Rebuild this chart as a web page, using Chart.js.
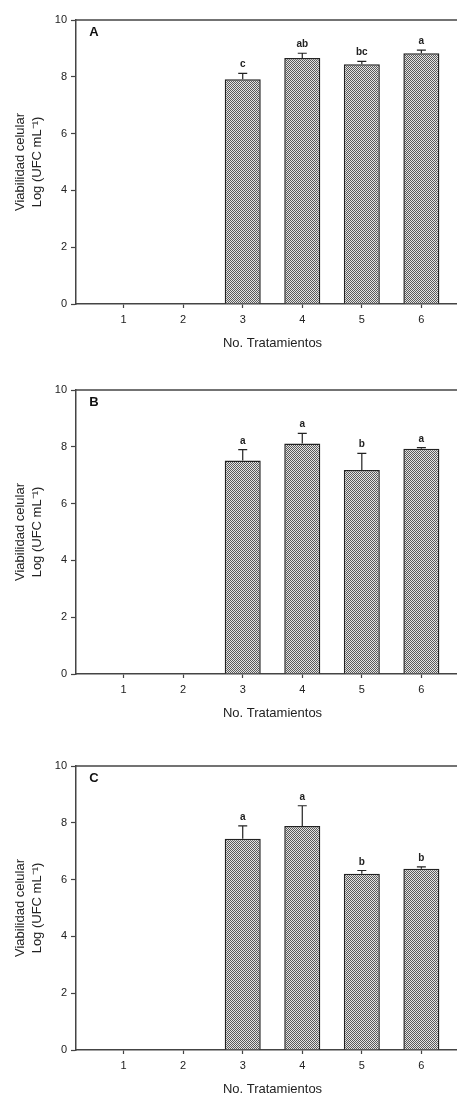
<!DOCTYPE html>
<html>
<head>
<meta charset="utf-8">
<script src="https://cdn.jsdelivr.net/npm/chart.js@4.4.0/dist/chart.umd.min.js"></script>
<style>
    html, body { margin: 0; padding: 0; background: #fff; }
    body { width: 457px; height: 1095px; overflow: hidden; position: relative; }
    canvas { position: absolute; left: 0; }
</style>
</head>
<body>
<canvas id="chartA" width="470" height="360" style="top:0px"></canvas>
<canvas id="chartB" width="470" height="360" style="top:370px"></canvas>
<canvas id="chartC" width="470" height="360" style="top:746px"></canvas>
<script>
// Data (treatments 1 and 2 have no bar)
const treatments = [1, 2, 3, 4, 5, 6];
const yTicks = [0, 2, 4, 6, 8, 10];

const meansA = [null, null, 7.91, 8.66, 8.44, 8.83];
const errA = [null, null, 0.21, 0.17, 0.10, 0.11];
const lettersA = ['', '', 'c', 'ab', 'bc', 'a'];

const meansB = [null, null, 7.52, 8.12, 7.18, 7.93];
const errB = [null, null, 0.38, 0.35, 0.59, 0.04];
const lettersB = ['', '', 'a', 'a', 'b', 'a'];

const meansC = [null, null, 7.44, 7.89, 6.21, 6.38];
const errC = [null, null, 0.45, 0.71, 0.11, 0.07];
const lettersC = ['', '', 'a', 'a', 'b', 'b'];

const AXIS = '#444';
const TEXT = '#222';

Chart.defaults.font.family = "'Liberation Sans', Arial, sans-serif";
Chart.defaults.color = TEXT;

// checker fill like the SigmaPlot pattern
function makePattern() {
    const tile = document.createElement('canvas');
    tile.width = 2;
    tile.height = 2;
    const g = tile.getContext('2d');
    g.fillStyle = '#e4e4e4';
    g.fillRect(0, 0, 2, 2);
    g.fillStyle = '#5a5a5a';
    g.fillRect(0, 0, 1, 1);
    g.fillRect(1, 1, 1, 1);
    return g.createPattern(tile, 'repeat');
}

// error bars, significance letters, panel letter, top frame line
const extras = {
    id: 'extras',
    afterDatasetsDraw(chart, args, opts) {
        const { ctx, chartArea, scales: { x, y } } = chart;
        ctx.save();

        ctx.strokeStyle = AXIS;
        ctx.lineWidth = 1.5;
        ctx.beginPath();
        ctx.moveTo(chartArea.left, chartArea.top);
        ctx.lineTo(chartArea.right, chartArea.top);
        ctx.stroke();

        treatments.forEach((t, i) => {
            const m = opts.means[i];
            if (m == null) return;
            const px = x.getPixelForValue(t);
            const yBar = y.getPixelForValue(m);
            const yErr = y.getPixelForValue(m + opts.errs[i]);

            ctx.strokeStyle = '#222';
            ctx.lineWidth = 1.2;
            ctx.beginPath();
            ctx.moveTo(px, yBar);
            ctx.lineTo(px, yErr);
            ctx.moveTo(px - 4.5, yErr);
            ctx.lineTo(px + 4.5, yErr);
            ctx.stroke();

            ctx.fillStyle = TEXT;
            ctx.font = "bold 10px 'Liberation Sans', Arial, sans-serif";
            ctx.textAlign = 'center';
            ctx.textBaseline = 'alphabetic';
            ctx.fillText(opts.letters[i], px, yErr - 6);
        });

        ctx.fillStyle = '#111';
        ctx.font = "bold 13px 'Liberation Sans', Arial, sans-serif";
        ctx.textAlign = 'center';
        ctx.textBaseline = 'middle';
        ctx.fillText(opts.label, chartArea.left + 18, chartArea.top + 12);
        ctx.restore();
    }
};

function makePanel(id, label, means, errs, letters) {
    const ctx = document.getElementById(id).getContext('2d');
    return new Chart(ctx, {
        type: 'bar',
        data: {
            datasets: [{
                data: treatments.map((t, i) => ({ x: t, y: means[i] })),
                backgroundColor: makePattern(),
                borderColor: '#222',
                borderWidth: 1.5,
                categoryPercentage: 1,
                barPercentage: 0.605
            }]
        },
        options: {
            responsive: false,
            animation: false,
            layout: { padding: { top: 20, left: 0, right: 1, bottom: 0 } },
            plugins: {
                legend: { display: false },
                tooltip: { enabled: false },
                extras: { label, means, errs, letters }
            },
            scales: {
                x: {
                    type: 'linear',
                    min: 0.2,
                    max: 6.8,
                    offset: false,
                    afterBuildTicks: s => { s.ticks = treatments.map(v => ({ value: v })); },
                    afterFit: s => { s.height = 56; },
                    border: { color: AXIS, width: 1.5 },
                    grid: { drawOnChartArea: false, offset: false, tickLength: 4, color: AXIS, tickWidth: 1.2 },
                    ticks: { padding: 5, font: { size: 11 }, color: TEXT, maxRotation: 0 },
                    title: {
                        display: true,
                        text: 'No. Tratamientos',
                        font: { size: 13 },
                        color: TEXT,
                        padding: { top: 0, bottom: 9 }
                    }
                },
                y: {
                    min: 0,
                    max: 10,
                    afterBuildTicks: s => { s.ticks = yTicks.map(v => ({ value: v })); },
                    afterFit: s => { s.width = 76; },
                    border: { color: AXIS, width: 1.5 },
                    grid: { drawOnChartArea: false, tickLength: 5, color: AXIS, tickWidth: 1.2 },
                    ticks: { padding: 4, font: { size: 11 }, color: TEXT },
                    title: {
                        display: true,
                        text: ['Viabilidad celular', 'Log (UFC mL\u207B\u00B9)'],
                        font: { size: 13, lineHeight: 1.38 },
                        color: TEXT,
                        padding: { top: 11, bottom: 0 }
                    }
                }
            }
        },
        plugins: [extras]
    });
}

makePanel('chartA', 'A', meansA, errA, lettersA);
makePanel('chartB', 'B', meansB, errB, lettersB);
makePanel('chartC', 'C', meansC, errC, lettersC);
</script>
</body>
</html>
